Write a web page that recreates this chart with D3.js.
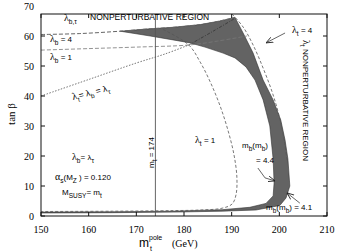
<!DOCTYPE html>
<html lang="en">
<head>
<meta charset="UTF-8" />
<script src="https://d3js.org/d3.v7.min.js"></script>
<style>
  body { margin:0; background:#fff; }
  text { font-family: "Liberation Sans", Arial, sans-serif; }
  .tick { font-family: "Liberation Serif", "Times New Roman", serif; font-size:10px; }
</style>
</head>
<body>
<script>
// tick values
var xTicks = [150, 160, 170, 180, 190, 200, 210];
var yTicks = [0, 10, 20, 30, 40, 50, 60, 70];

// curves, [m_t pole, tan beta]
var mb41 = [[150,1.0],[165,1.1],[177.7,1.3],[188,1.6],[195.1,2.0],[200.1,3.5],[201.4,6.0],[202.2,10],[201.8,19],[201.2,25.3],[200.3,32],[198.7,38.7],[196.6,45.3],[194.5,54.3],[192.4,61],[190.7,66.2]];
var mb44 = [[150,1.3],[165,1.4],[177.7,1.6],[188,2.1],[193.8,2.9],[197.2,4.2],[198.7,6.7],[198.9,11],[198.7,19],[198,30],[196.6,38.7],[194.9,45.3],[193,49.7],[190.7,52.7],[188.2,54.3],[184.4,56.3],[181.3,57.7],[177.7,58.7],[172.9,60],[166.6,61.6]];
var lamB4 = [[150,60.5],[158,60.8],[166.6,61.6],[172,62.3],[177.7,62.9],[183.4,63.8],[187.5,65],[190.7,66.2]];
var lamB1 = [[150,55.3],[160,55.8],[170,56.3],[181,57],[187,58.3],[193.2,60]];
var triple = [[150,40],[160,45.5],[170,51],[176,54],[181,57]];
var triple2 = [[181,57],[186,61.5],[190.6,65.8]];
var lamT1 = [[175.6,62.2],[181,57],[183.4,51.3],[185.5,44.7],[187.5,37],[189.2,28.7],[190.5,20.3],[191.1,12.7],[190.9,7],[190.1,4],[188,2.6],[183.4,2.0],[177.7,1.8],[165,1.6],[150,1.5]];
var lamT4 = [[190.1,67.3],[192.4,63],[194.5,57],[196.6,49.3],[198.5,41.3],[199.9,33.7],[201,25.3],[201.6,18.7]];
var mtLine = 174;

// annotation arrows
var arrT4 = [[201.2,61],[197.2,57.7]];
var arr44 = [[195.5,16],[197,12.7],[199.1,11.7]];
var arr41 = [[204.3,4.3],[201.6,7.7]];

var W = 346, H = 252;
var svg = d3.select("body").append("svg").attr("width", W).attr("height", H);

var x = d3.scaleLinear().domain([150, 210]).range([41, 327]);
var y = d3.scaleLinear().domain([0, 70]).range([216, 6]);
var yTop = 14, yBot = y(0), xLeft = x(150), xRight = x(210);

var defs = svg.append("defs");
defs.append("clipPath").attr("id", "clip")
  .append("rect").attr("x", xLeft).attr("y", yTop).attr("width", xRight-xLeft).attr("height", yBot-yTop);
defs.append("marker").attr("id", "ah")
  .attr("viewBox", "0 0 10 10").attr("refX", 10).attr("refY", 5)
  .attr("markerWidth", 7).attr("markerHeight", 7).attr("orient", "auto").attr("markerUnits", "userSpaceOnUse")
  .append("path").attr("d", "M0,1L10,5L0,9").attr("fill", "none").attr("stroke", "#222").attr("stroke-width", 1.2);

var line = d3.line().x(function(d){ return x(d[0]); }).y(function(d){ return y(d[1]); }).curve(d3.curveCatmullRom);
var lineStraight = d3.line().x(function(d){ return x(d[0]); }).y(function(d){ return y(d[1]); });
var g = svg.append("g").attr("clip-path", "url(#clip)");

// shaded band
var band = mb44.concat(lamB4.filter(function(d){ return d[0] > 166.6; })).concat(mb41.slice().reverse());
g.append("path").datum(band).attr("d", lineStraight).attr("fill", "#636363").attr("stroke", "#333").attr("stroke-width", 0.6);

function draw(data, col, dash, w) {
  g.append("path").datum(data).attr("d", line).attr("fill", "none")
    .attr("stroke", col).attr("stroke-dasharray", dash).attr("stroke-width", w || 0.8);
}
draw(lamB4, "#666", "4,2", 1);
draw(lamB1, "#777", "4,2", 0.8);
draw(triple, "#666", "1.5,1.5", 0.9);
draw(triple2, "#333", "3,1.5,1,1.5", 0.8);
draw(lamT1, "#555", "3,2", 0.8);
draw(lamT4, "#555", "3,2", 0.8);

g.append("line").attr("x1", x(mtLine)).attr("x2", x(mtLine)).attr("y1", yTop).attr("y2", yBot)
  .attr("stroke", "#555").attr("stroke-width", 0.9);

// frame and ticks
svg.append("rect").attr("x", xLeft).attr("y", yTop).attr("width", xRight-xLeft).attr("height", yBot-yTop)
  .attr("fill", "none").attr("stroke", "#111").attr("stroke-width", 1);
xTicks.forEach(function(v){
  svg.append("line").attr("x1", x(v)).attr("x2", x(v)).attr("y1", yBot).attr("y2", yBot-4).attr("stroke", "#111");
  svg.append("line").attr("x1", x(v)).attr("x2", x(v)).attr("y1", yTop).attr("y2", yTop+4).attr("stroke", "#111");
  svg.append("text").attr("class", "tick").attr("x", x(v)).attr("y", 233).attr("text-anchor", "middle").text(v);
});
yTicks.forEach(function(v){
  if (y(v) >= yTop) {
    svg.append("line").attr("x1", xLeft).attr("x2", xLeft+4).attr("y1", y(v)).attr("y2", y(v)).attr("stroke", "#111");
    svg.append("line").attr("x1", xRight).attr("x2", xRight-4).attr("y1", y(v)).attr("y2", y(v)).attr("stroke", "#111");
  }
  svg.append("text").attr("class", "tick").attr("x", 34).attr("y", y(v)+3.5).attr("text-anchor", "end").text(v);
});

// axis titles
svg.append("text").attr("transform", "translate(15,114) rotate(-90)").attr("text-anchor", "middle")
  .style("font-family", "Liberation Serif, serif").style("font-size", "11px").text("tan \u03b2");
svg.append("text").attr("x", 139).attr("y", 247).style("font-size", "12px").text("m");
svg.append("text").attr("x", 149).attr("y", 240).style("font-size", "7px").text("pole");
svg.append("text").attr("x", 150).attr("y", 251).style("font-size", "7px").text("t");
svg.append("text").attr("x", 172).attr("y", 247).style("font-family", "Liberation Serif, serif").style("font-size", "10px").text("(GeV)");

// labels
function lab(px, py, parts, size, rot) {
  var t = svg.append("text").attr("transform", "translate(" + px + "," + py + ")" + (rot ? " rotate(" + rot + ")" : ""))
    .style("font-size", (size || 8) + "px");
  parts.forEach(function(p){
    var s = t.append("tspan").text(p[0]);
    if (p[1] === "sub") s.attr("dy", 3).style("font-size", "6.5px");
    if (p[1] === "up") s.attr("dy", -3);
    if (p[1] === "big") s.style("font-size", "10px").style("font-family", "Liberation Serif, serif");
  });
  return t;
}
lab(64, 21, [["\u03bb", "big"], ["b,\u03c4", "sub"]]);
lab(90, 20, [["NONPERTURBATIVE REGION"]], 8.5);
lab(50, 42, [["\u03bb", "big"], ["b", "sub"], [" = 4", "up"]]);
lab(50, 60, [["\u03bb", "big"], ["b", "sub"], [" = 1", "up"]]);
lab(73, 100, [["\u03bb", "big"], ["t", "sub"], ["= \u03bb", "up"], ["b", "sub"], [" = \u03bb", "up"], ["\u03c4", "sub"]], 8.5, -14);
lab(154, 168, [["m"], ["t", "sub"], [" = 174", "up"]], 8, -90);
lab(195, 143, [["\u03bb", "big"], ["t", "sub"], [" = 1", "up"]]);
lab(292, 33, [["\u03bb", "big"], ["t", "sub"], [" = 4", "up"]]);
lab(303, 40, [["\u03bb", "big"], ["t", "sub"], ["  NONPERTURBATIVE  REGION", "up"]], 8, 90);
lab(242, 148, [["m"], ["b", "sub"], ["(m", "up"], ["b", "sub"], [")", "up"]]);
lab(256, 163, [["= 4.4"]]);
lab(266, 210, [["m"], ["b", "sub"], ["(m", "up"], ["b", "sub"], [") = 4.1", "up"]]);
lab(72, 160, [["\u03bb", "big"], ["b", "sub"], ["= \u03bb", "up"], ["\u03c4", "sub"]]);
lab(55, 180, [["\u03b1", "big"], ["s", "sub"], ["(M", "up"], ["Z", "sub"], [" ) = 0.120", "up"]]);
lab(62, 195, [["M"], ["SUSY", "sub"], ["= m", "up"], ["t", "sub"]]);

// arrows
[arrT4, arr44, arr41].forEach(function(a){
  svg.append("path").datum(a).attr("d", lineStraight)
    .attr("fill", "none").attr("stroke", "#222").attr("stroke-width", 0.7).attr("marker-end", "url(#ah)");
});
</script>
</body>
</html>
